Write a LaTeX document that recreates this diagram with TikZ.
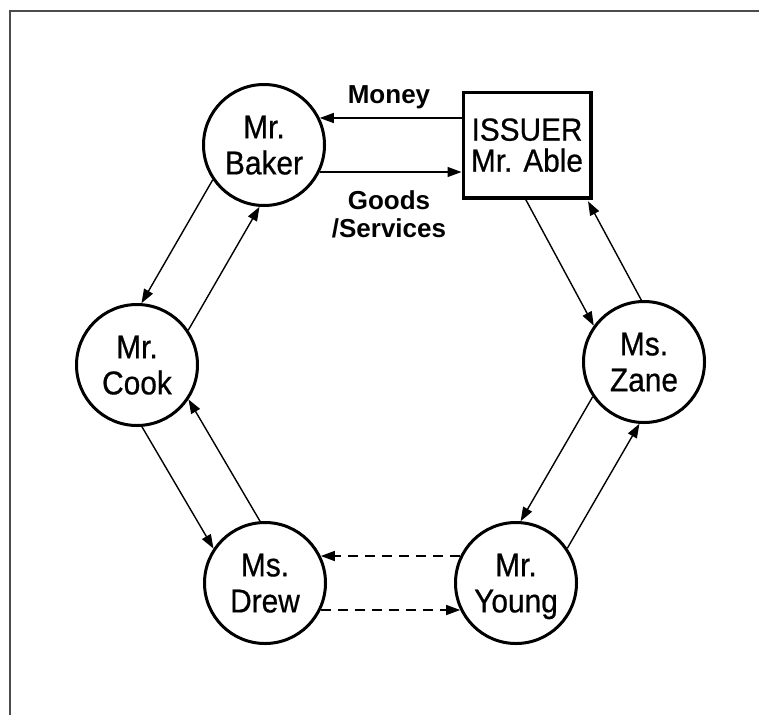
\documentclass[tikz,border=0pt]{standalone}
\usepackage{fontspec}
\setmainfont{Liberation Sans}
\newfontfamily\nodefont[FakeStretch=0.905,FakeBold=0.6]{Liberation Sans}
\newfontfamily\boxfont[FakeStretch=0.93,FakeBold=0.6]{Liberation Sans}
\usetikzlibrary{calc,arrows.meta}
\newcommand\flowline[3]{\draw[flow,#1] ($(#2)!27pt!-90:(#3)$) -- ($(#3)!27pt!90:(#2)$);}
\begin{document}
\begin{tikzpicture}[x=1pt,y=-1pt,
  person/.style={circle,draw,line width=3pt,minimum size=121pt,inner sep=0pt,
    align=center,font=\nodefont\fontsize{33}{36}\selectfont,text depth=0pt},
  issuer/.style={rectangle,draw,line width=3.5pt,minimum width=127.5pt,
    minimum height=105.5pt,inner sep=0pt,align=center,
    font=\boxfont\fontsize{32}{31}\selectfont,text depth=0pt},
  flow/.style={line width=1.4pt,-{Triangle[length=14pt,width=10pt]},
    shorten >=55.8pt,shorten <=55.8pt},
  dashflow/.style={dash pattern=on 10pt off 7pt},
  lbl/.style={font=\bfseries\fontsize{26}{28}\selectfont,align=center,
    text depth=0pt,inner sep=0pt},
  frame/.style={line width=2.5pt,black!70}
]
\fill[white,use as bounding box] (0,0) rectangle (759,715);
\draw[frame] (10,715) -- (10,11) -- (759,11);

\node[person] (Baker) at (264,145) {Mr.\\Baker};
\node[issuer] (Able) at (527,145) {ISSUER\\Mr. Able};
\node[person] (Cook) at (137,365) {Mr.\\Cook};
\node[person] (Zane) at (644,362) {Ms.\\Zane};
\node[person] (Drew) at (265,583) {Ms.\\Drew};
\node[person] (Young) at (516,583) {Mr.\\Young};

\node[lbl] (money) at (389,95) {Money};
\node[lbl] (goods) at (389,214.5) {Goods\\/Services};

% horizontal links with the issuer
\flowline{shorten <=65pt}{Able}{Baker}
\flowline{shorten >=65.5pt}{Baker}{Able}

% left and bottom sides
\flowline{}{Baker}{Cook}
\flowline{}{Cook}{Baker}
\flowline{}{Cook}{Drew}
\flowline{}{Drew}{Cook}
\flowline{dashflow}{Drew}{Young}
\flowline{dashflow}{Young}{Drew}
\flowline{}{Young}{Zane}
\flowline{}{Zane}{Young}

% issuer and Ms. Zane
\coordinate (az1) at ($(Able)!27pt!-90:(Zane)$);
\coordinate (az2) at ($(Zane)!27pt!90:(Able)$);
\draw[flow,shorten <=0pt] (intersection of az1--az2 and Able.south west--Able.south east) -- (az2);
\coordinate (za1) at ($(Zane)!27pt!-90:(Able)$);
\coordinate (za2) at ($(Able)!27pt!90:(Zane)$);
\draw[flow,shorten >=2pt] (za1) -- (intersection of za1--za2 and Able.south west--Able.south east);
\end{tikzpicture}
\end{document}
